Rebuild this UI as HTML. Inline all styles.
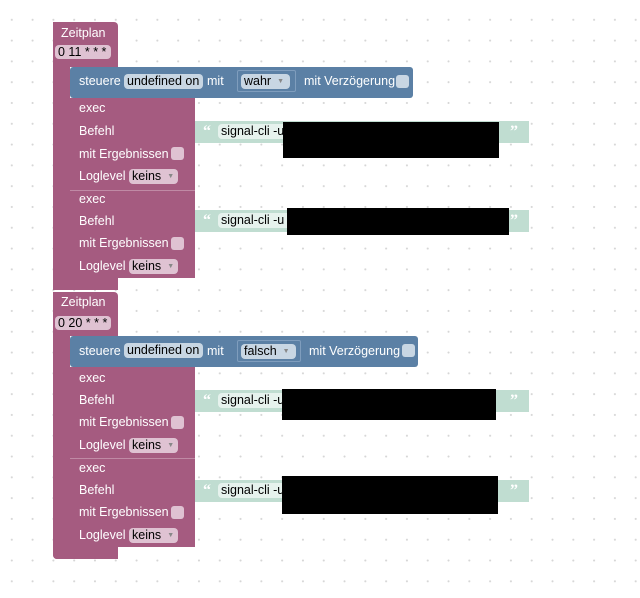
<!DOCTYPE html>
<html><head><meta charset="utf-8"><style>
*{margin:0;padding:0;box-sizing:border-box}
body{width:640px;height:598px;position:relative;overflow:hidden;background:#fff;
background-image:radial-gradient(circle,#d6d6d6 0.8px,transparent 1.2px);
background-size:20.8px 20.8px;background-position:1.4px 9.4px;
font-family:"Liberation Sans",sans-serif;font-size:12.5px}
.a{position:absolute}
.p{background:#a55b80}
.b{background:#5b80a5}
.g{background:#c0ddd1}
.k{background:#000}
.t{position:absolute;color:#fff;white-space:nowrap;line-height:14px}
.f{position:absolute;border-radius:4px;color:#000;white-space:nowrap;line-height:15px;padding-left:3px}
.fp{background:#dfc2d2}
.fb{background:#c8d6e3}
.fg{background:#e6f2ed}
.cb{position:absolute;width:13px;height:13px;border-radius:3px}
.sep{position:absolute;height:1px;background:#c08aa5}
.arr{font-size:7px;color:#888;margin-left:6px;vertical-align:middle}
.q{position:absolute;color:#fff;font-size:16px;font-weight:bold;line-height:14px;font-family:"Liberation Serif",serif}
</style></head><body>

<!-- Block 1 -->
<div class="a p" style="left:53px;top:22px;width:65px;height:45px;border-radius:4px 4px 0 0"></div>
<div class="a p" style="left:53px;top:22px;width:17px;height:268px"></div>
<div class="a p" style="left:53px;top:278px;width:65px;height:12px;border-radius:0 0 0 4px"></div>
<div class="t" style="left:61px;top:26px">Zeitplan</div>
<div class="f fp" style="left:55px;top:45px;width:56px;height:14px">0 11 * * *</div>

<div class="a b" style="left:70px;top:67px;width:343px;height:31px;border-radius:3px"></div>
<div class="t" style="left:79px;top:74px">steuere</div>
<div class="f fb" style="left:124px;top:74px;width:79px;height:15px">undefined on</div>
<div class="t" style="left:207px;top:74px">mit</div>
<div class="a" style="left:237px;top:70px;width:59px;height:22px;border:1px solid #7f9dbd;border-radius:2px"></div>
<div class="f fb" style="left:241px;top:74px;width:49px;height:15px">wahr<span class="arr">▼</span></div>
<div class="t" style="left:304px;top:74px">mit Verzögerung</div>
<div class="cb fb" style="left:396px;top:75px"></div>

<div class="a p" style="left:70px;top:98px;width:125px;height:180px"></div>
<div class="sep" style="left:70px;top:190px;width:125px"></div>
<div class="t" style="left:79px;top:101px">exec</div>
<div class="t" style="left:79px;top:124px">Befehl</div>
<div class="t" style="left:79px;top:147px">mit Ergebnissen</div>
<div class="cb fp" style="left:171px;top:147px"></div>
<div class="t" style="left:79px;top:169px">Loglevel</div>
<div class="f fp" style="left:129px;top:169px;width:49px;height:15px">keins<span class="arr">▼</span></div>
<div class="t" style="left:79px;top:192px">exec</div>
<div class="t" style="left:79px;top:214px">Befehl</div>
<div class="t" style="left:79px;top:236px">mit Ergebnissen</div>
<div class="cb fp" style="left:171px;top:237px"></div>
<div class="t" style="left:79px;top:259px">Loglevel</div>
<div class="f fp" style="left:129px;top:259px;width:49px;height:15px">keins<span class="arr">▼</span></div>

<div class="a g" style="left:195px;top:121px;width:334px;height:22px"></div>
<div class="q" style="left:203px;top:125px">“</div>
<div class="f fg" style="left:218px;top:124px;width:108px;height:15px">signal-cli -u</div>
<div class="q" style="left:510px;top:125px">”</div>
<div class="a k" style="left:283px;top:122px;width:216px;height:36px"></div>

<div class="a g" style="left:195px;top:210px;width:334px;height:22px"></div>
<div class="q" style="left:203px;top:214px">“</div>
<div class="f fg" style="left:218px;top:213px;width:108px;height:15px">signal-cli -u</div>
<div class="q" style="left:510px;top:214px">”</div>
<div class="a k" style="left:287px;top:208px;width:222px;height:27px"></div>

<!-- Block 2 -->
<div class="a p" style="left:53px;top:292px;width:65px;height:44px;border-radius:4px 4px 0 0"></div>
<div class="a p" style="left:53px;top:292px;width:17px;height:267px;border-radius:0 0 0 4px"></div>
<div class="a p" style="left:53px;top:547px;width:65px;height:12px;border-radius:0 0 0 4px"></div>
<div class="t" style="left:61px;top:295px">Zeitplan</div>
<div class="f fp" style="left:55px;top:316px;width:56px;height:14px">0 20 * * *</div>

<div class="a b" style="left:70px;top:336px;width:348px;height:31px;border-radius:3px"></div>
<div class="t" style="left:79px;top:344px">steuere</div>
<div class="f fb" style="left:124px;top:343px;width:79px;height:15px">undefined on</div>
<div class="t" style="left:207px;top:344px">mit</div>
<div class="a" style="left:237px;top:340px;width:64px;height:22px;border:1px solid #7f9dbd;border-radius:2px"></div>
<div class="f fb" style="left:241px;top:344px;width:55px;height:15px">falsch<span class="arr">▼</span></div>
<div class="t" style="left:309px;top:344px">mit Verzögerung</div>
<div class="cb fb" style="left:402px;top:344px"></div>

<div class="a p" style="left:70px;top:367px;width:125px;height:180px"></div>
<div class="sep" style="left:70px;top:458px;width:125px"></div>
<div class="t" style="left:79px;top:371px">exec</div>
<div class="t" style="left:79px;top:393px">Befehl</div>
<div class="t" style="left:79px;top:415px">mit Ergebnissen</div>
<div class="cb fp" style="left:171px;top:416px"></div>
<div class="t" style="left:79px;top:438px">Loglevel</div>
<div class="f fp" style="left:129px;top:438px;width:49px;height:15px">keins<span class="arr">▼</span></div>
<div class="t" style="left:79px;top:461px">exec</div>
<div class="t" style="left:79px;top:483px">Befehl</div>
<div class="t" style="left:79px;top:505px">mit Ergebnissen</div>
<div class="cb fp" style="left:171px;top:506px"></div>
<div class="t" style="left:79px;top:528px">Loglevel</div>
<div class="f fp" style="left:129px;top:528px;width:49px;height:15px">keins<span class="arr">▼</span></div>

<div class="a g" style="left:195px;top:390px;width:334px;height:22px"></div>
<div class="q" style="left:203px;top:394px">“</div>
<div class="f fg" style="left:218px;top:393px;width:108px;height:15px">signal-cli -u</div>
<div class="q" style="left:510px;top:394px">”</div>
<div class="a k" style="left:282px;top:389px;width:214px;height:31px"></div>

<div class="a g" style="left:195px;top:480px;width:334px;height:22px"></div>
<div class="q" style="left:203px;top:484px">“</div>
<div class="f fg" style="left:218px;top:483px;width:108px;height:15px">signal-cli -u</div>
<div class="q" style="left:510px;top:484px">”</div>
<div class="a k" style="left:282px;top:476px;width:216px;height:38px"></div>

</body></html>
